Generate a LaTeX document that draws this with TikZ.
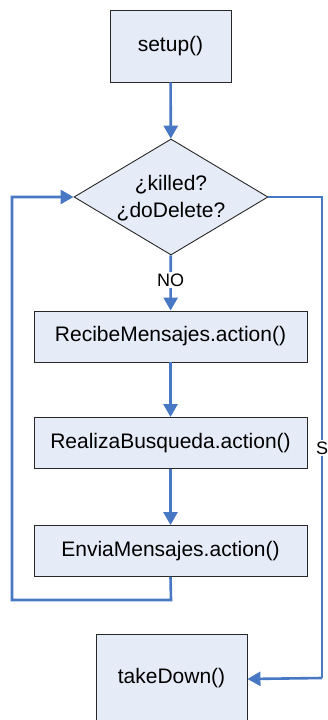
\documentclass[tikz,border=0pt]{standalone}
\usepackage{fontspec}
\setmainfont{Liberation Sans}
\usetikzlibrary{shapes.geometric,arrows.meta}
\definecolor{boxfill}{RGB}{230,236,247}
\definecolor{flowblue}{RGB}{72,120,196}
\definecolor{edgegray}{RGB}{40,40,40}
\begin{document}
\begin{tikzpicture}[x=1pt,y=-1pt,
  box/.style={draw=edgegray, line width=0.9pt, fill=boxfill, inner sep=0pt,
    font=\fontsize{21}{26}\selectfont},
  wide/.style={box, minimum width=273pt, minimum height=51pt},
  decision/.style={box, diamond, minimum width=194pt, minimum height=116pt},
  caption/.style={font=\fontsize{21}{27}\selectfont, align=center, inner sep=0pt},
  flow/.style={draw=flowblue, line width=2.6pt,
    -{Triangle[length=13pt,width=14pt]}},
  plainflow/.style={draw=flowblue, line width=2.6pt},
  tag/.style={fill=white, inner sep=1.5pt, font=\fontsize{18}{20}\selectfont}]
\clip (0,0) rectangle (328,720);
\fill[white] (0,0) rectangle (328,720);

% nodes
\node[box, minimum width=121pt, minimum height=72pt] (setup) at (170.5,46) {setup()};
\node[decision] (check) at (171,197) {};
\node[caption] (checktext) at (171,198) {¿killed?\\¿doDelete?};
\node[wide] (recibe) at (170.5,336.5) {RecibeMensajes.action()};
\node[wide] (realiza) at (170.5,443) {RealizaBusqueda.action()};
\node[wide] (envia) at (170.5,551) {EnviaMensajes.action()};
\node[box, minimum width=151pt, minimum height=90pt] (down) at (171.5,679) {};
\node[caption] (downtext) at (171.5,678) {takeDown()};

% loop corners and exit corners
\coordinate (lb) at (171,600);
\coordinate (lbl) at (12,600);
\coordinate (ltl) at (12,197);
\coordinate (rt) at (322,197);
\coordinate (rb) at (322,678);

% connectors
\draw[flow] (setup) -- (check);
\draw[flow] (check) -- node[tag, pos=0.45] (no) {NO} (recibe);
\draw[flow] (recibe) -- (realiza);
\draw[flow] (realiza) -- (envia);
\draw[flow, line join=miter] (envia.south) -- (lb) -- (lbl) -- (ltl) -- (check.west);
\draw[plainflow, line join=miter] (check.east) -- (rt) -- (rb);
\draw[flow] (rb) -- (down.east);
\node[tag] (si) at (322,448) {S};
\end{tikzpicture}
\end{document}
